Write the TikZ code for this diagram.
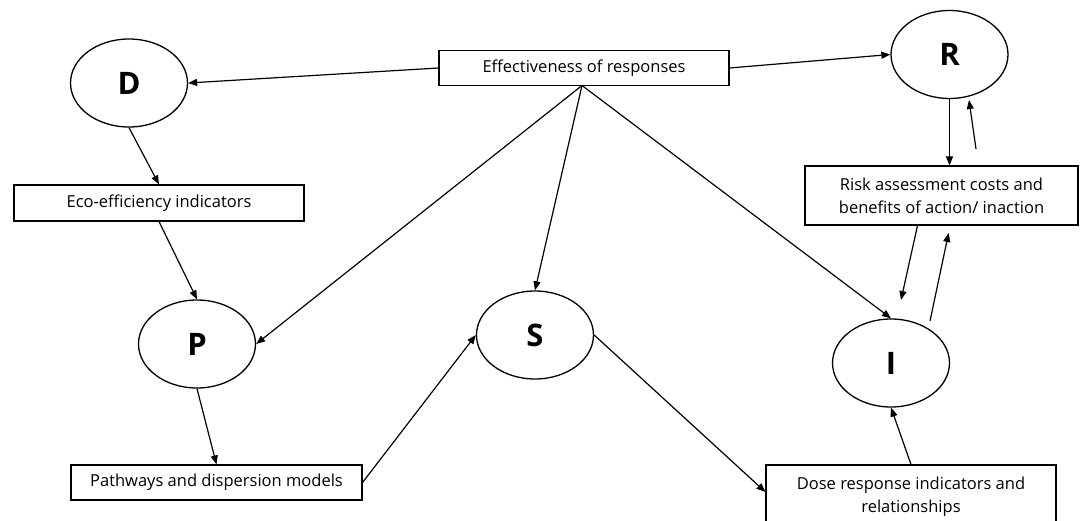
\documentclass[tikz,border=0pt]{standalone}
\usepackage{fontspec}
\setmainfont{Open Sans}
\usetikzlibrary{shapes.geometric,arrows.meta,calc}
\begin{document}
\begin{tikzpicture}[x=1pt,y=-1pt,
  circ/.style={draw,line width=1.3pt,ellipse,inner sep=0pt,minimum width=117pt,minimum height=88pt,font=\fontsize{31}{31}\selectfont\bfseries},
  box/.style={draw,line width=1.1pt,rectangle,inner sep=0pt,align=center,font=\fontsize{16.5}{23}\selectfont},
  arr/.style={line width=1.2pt,-{Triangle[length=9pt,width=7pt]}}]
\useasboundingbox (0,0) rectangle (1081,521);
\clip (0,0) rectangle (1081,521);
\node[circ] (D) at (129,83) {D};
\node[circ] (R) at (949.5,54.5) {R};
\node[circ] (P) at (197,344) {P};
\node[circ] (S) at (535,335) {S};
\node[circ] (I) at (891,363) {I};
\node[box,minimum width=290pt,minimum height=35pt] (E) at (584,68) {Effectiveness of responses};
\node[box,minimum width=290pt,minimum height=36pt] (Eco) at (159,203) {Eco-efficiency indicators};
\node[box,minimum width=291pt,minimum height=35pt] (Pa) at (216.5,482.5) {Pathways and dispersion models};
\node[box,minimum width=273pt,minimum height=59pt] (Ri) at (941.5,195.5) {Risk assessment costs and\\benefits of action/ inaction};
\node[box,minimum width=290pt,minimum height=64pt] (Do) at (911,497) {Dose response indicators and\\relationships};
\coordinate (r1) at (976,149);
\coordinate (r2) at (969,100);
\coordinate (i1) at (901,300);
\coordinate (i2) at (930,321);
\coordinate (r3) at (948.6,233);
\coordinate (es) at (582,85.5);
\draw[arr] (E.west) -- (D.east);
\draw[arr] (E.east) -- (R.west);
\draw[arr] (es) -- (P.east);
\draw[arr] (es) -- (S.north);
\draw[arr] (es) -- (I.north);
\draw[arr] (D.south) -- (Eco.north);
\draw[arr] (Eco.south) -- (P.north);
\draw[arr] (P.south) -- (Pa.north);
\draw[arr] (Pa.east) -- (S.west);
\draw[arr] (S.east) -- ([yshift=5pt]Do.west);
\draw[arr] (Do.north) -- (I.south);
\draw[arr] (R.south) -- (R.south |- Ri.north);
\draw[arr] (r1) -- (r2);
\draw[arr] ([xshift=-24pt]Ri.south) -- (i1);
\draw[arr] (i2) -- (r3);
\end{tikzpicture}
\end{document}
